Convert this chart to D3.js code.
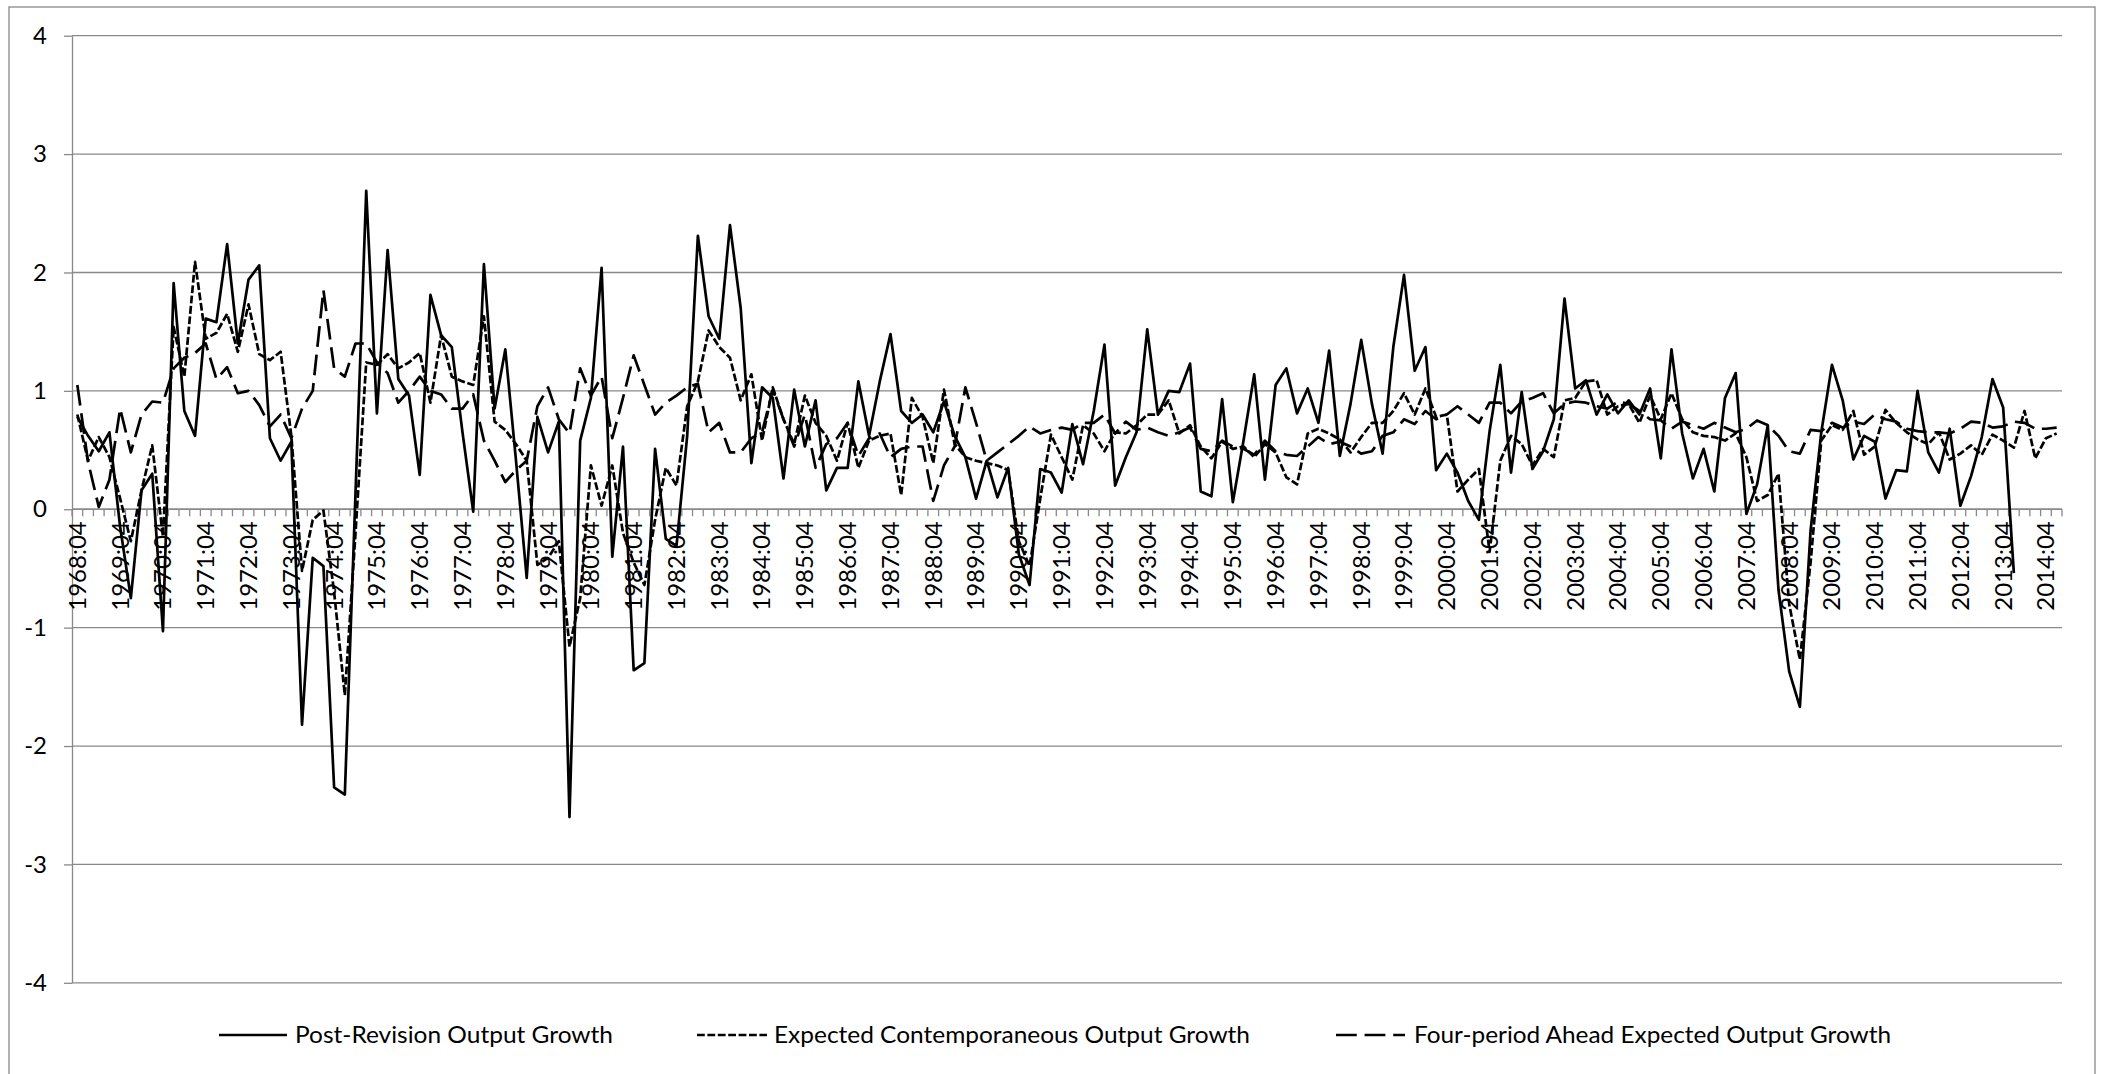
<!DOCTYPE html>
<html>
<head>
<meta charset="utf-8">
<script src="https://cdn.jsdelivr.net/npm/d3@7"></script>
<style>
  html, body { margin: 0; padding: 0; background: #fff; }
  svg { display: block; }
  text { font-family: Lato, "Open Sans", sans-serif; fill: #000; }
</style>
</head>
<body>
<svg id="chart" width="2103" height="1074"></svg>
<script>
// Quarterly categories, 1968:04 through 2015:01
const firstYear = 1968;
const lastYear = 2015;
const categories = [];
for (let yr = firstYear; yr <= lastYear; yr++) {
  for (let q = 1; q <= 4; q++) {
    if ((yr === firstYear && q < 4) || (yr === lastYear && q > 1)) continue;
    categories.push(yr + ":0" + q);
  }
}
// every fourth quarter carries a label
const tickLabels = categories.filter(c => c.endsWith(":04"));
const yTicks = [-4, -3, -2, -1, 0, 1, 2, 3, 4];

const seriesNames = [
  "Post-Revision Output Growth",
  "Expected Contemporaneous Output Growth",
  "Four-period Ahead Expected Output Growth"
];

const postRevision = [
  0.78, 0.62, 0.49, 0.65, -0.15, -0.75, 0.16, 0.30, -1.03, 1.91,
  0.83, 0.62, 1.61, 1.58, 2.24, 1.40, 1.94, 2.06, 0.60, 0.41,
  0.57, -1.82, -0.41, -0.48, -2.35, -2.41, 0.14, 2.69, 0.81, 2.19,
  1.10, 0.96, 0.29, 1.81, 1.47, 1.37, 0.65, -0.02, 2.07, 0.85,
  1.35, 0.41, -0.58, 0.78, 0.48, 0.74, -2.60, 0.58, 0.94, 2.04,
  -0.40, 0.53, -1.36, -1.30, 0.51, -0.25, -0.31, 0.62, 2.31, 1.63,
  1.44, 2.40, 1.70, 0.39, 1.03, 0.94, 0.26, 1.01, 0.53, 0.92,
  0.16, 0.35, 0.35, 1.08, 0.62, 1.08, 1.48, 0.83, 0.73, 0.80,
  0.65, 0.91, 0.62, 0.44, 0.09, 0.41, 0.10, 0.35, -0.38, -0.64,
  0.34, 0.31, 0.14, 0.72, 0.38, 0.83, 1.39, 0.20, 0.44, 0.65,
  1.52, 0.80, 1.00, 0.99, 1.23, 0.15, 0.11, 0.93, 0.06, 0.58,
  1.14, 0.25, 1.05, 1.19, 0.81, 1.02, 0.73, 1.34, 0.45, 0.89,
  1.43, 0.89, 0.47, 1.37, 1.98, 1.17, 1.37, 0.33, 0.47, 0.31,
  0.07, -0.09, 0.66, 1.22, 0.31, 0.99, 0.34, 0.49, 0.76, 1.78,
  1.02, 1.09, 0.80, 0.97, 0.81, 0.92, 0.80, 1.02, 0.43, 1.35,
  0.64, 0.26, 0.51, 0.15, 0.94, 1.15, -0.04, 0.21, 0.71, -0.68,
  -1.37, -1.67, -0.18, 0.65, 1.22, 0.92, 0.42, 0.62, 0.57, 0.09,
  0.33, 0.32, 1.00, 0.48, 0.31, 0.68, 0.03, 0.28, 0.61, 1.10,
  0.86, -0.54, null, null, null, null
];

const expectedContemporaneous = [
  0.80, 0.41, 0.61, 0.44, 0.09, -0.27, 0.16, 0.54, -0.23, 1.54,
  1.12, 2.09, 1.44, 1.49, 1.65, 1.33, 1.73, 1.31, 1.26, 1.33,
  0.62, -0.52, -0.09, -0.01, -0.70, -1.57, -0.20, 1.24, 1.22, 1.31,
  1.19, 1.24, 1.32, 0.90, 1.47, 1.12, 1.08, 1.05, 1.63, 0.74,
  0.67, 0.55, 0.41, -0.47, -0.41, -0.27, -1.16, -0.75, 0.37, 0.03,
  0.37, -0.20, -0.45, -0.64, -0.09, 0.35, 0.20, 0.87, 1.08, 1.51,
  1.37, 1.28, 0.92, 1.14, 0.58, 1.03, 0.76, 0.55, 0.96, 0.73,
  0.62, 0.41, 0.73, 0.35, 0.58, 0.62, 0.64, 0.12, 0.94, 0.78,
  0.39, 1.01, 0.55, 0.44, 0.41, 0.39, 0.37, 0.33, -0.27, -0.48,
  0.09, 0.63, 0.44, 0.25, 0.71, 0.64, 0.49, 0.65, 0.64, 0.71,
  0.80, 0.80, 0.92, 0.64, 0.71, 0.53, 0.43, 0.57, 0.51, 0.53,
  0.44, 0.55, 0.48, 0.27, 0.21, 0.64, 0.68, 0.64, 0.59, 0.48,
  0.61, 0.73, 0.73, 0.83, 0.98, 0.80, 1.02, 0.78, 0.80, 0.15,
  0.25, 0.34, -0.36, 0.41, 0.62, 0.55, 0.37, 0.51, 0.44, 0.92,
  0.94, 1.08, 1.09, 0.80, 0.87, 0.89, 0.73, 0.96, 0.76, 0.98,
  0.76, 0.65, 0.62, 0.61, 0.58, 0.64, 0.44, 0.07, 0.12, 0.30,
  -0.80, -1.27, -0.45, 0.58, 0.71, 0.67, 0.83, 0.46, 0.53, 0.84,
  0.73, 0.65, 0.59, 0.55, 0.65, 0.42, 0.47, 0.54, 0.46, 0.63,
  0.58, 0.52, 0.83, 0.43, 0.60, 0.64
];

const fourPeriodAhead = [
  1.05, 0.40, 0.02, 0.25, 0.85, 0.48, 0.80, 0.91, 0.90, 1.19,
  1.28, 1.32, 1.40, 1.10, 1.20, 0.98, 1.00, 0.88, 0.70, 0.80,
  0.60, 0.85, 1.00, 1.85, 1.19, 1.12, 1.40, 1.40, 1.24, 1.15,
  0.90, 1.00, 1.12, 1.00, 0.97, 0.85, 0.85, 0.97, 0.58, 0.41,
  0.23, 0.33, 0.41, 0.87, 1.03, 0.76, 0.64, 1.19, 0.96, 1.12,
  0.60, 0.94, 1.30, 1.05, 0.80, 0.90, 0.96, 1.03, 1.06, 0.65,
  0.73, 0.48, 0.48, 0.60, 0.65, 1.01, 0.76, 0.53, 0.80, 0.35,
  0.55, 0.60, 0.73, 0.45, 0.60, 0.64, 0.44, 0.51, 0.53, 0.53,
  0.07, 0.37, 0.53, 1.03, 0.73, 0.41, 0.48, 0.55, 0.62, 0.70,
  0.64, 0.67, 0.69, 0.67, 0.73, 0.73, 0.80, 0.64, 0.74, 0.67,
  0.69, 0.65, 0.62, 0.65, 0.69, 0.51, 0.49, 0.58, 0.53, 0.51,
  0.46, 0.58, 0.49, 0.46, 0.45, 0.53, 0.61, 0.55, 0.57, 0.53,
  0.47, 0.49, 0.62, 0.65, 0.76, 0.72, 0.83, 0.76, 0.80, 0.87,
  0.80, 0.73, 0.90, 0.90, 0.81, 0.91, 0.94, 0.98, 0.81, 0.89,
  0.91, 0.90, 0.87, 0.85, 0.91, 0.89, 0.83, 0.76, 0.75, 0.68,
  0.74, 0.71, 0.68, 0.73, 0.69, 0.65, 0.68, 0.75, 0.71, 0.62,
  0.49, 0.47, 0.67, 0.66, 0.73, 0.69, 0.74, 0.72, 0.80, 0.76,
  0.74, 0.68, 0.66, 0.65, 0.65, 0.64, 0.68, 0.74, 0.73, 0.69,
  0.70, 0.74, 0.73, 0.68, 0.68, 0.69
];

const W = 2103, H = 1074;
const plot = { left: 72, right: 2062, top: 35.7, bottom: 982.8 };
const gridColor = "#898989";
const lineWidth = 2.7;
const dashes = ["none", "7.8,2.6", "20.8,7.8"];

const svg = d3.select("#chart");
svg.append("rect").attr("width", W).attr("height", H).attr("fill", "#fff");

// chart area frame
svg.append("rect")
  .attr("x", 9).attr("y", 7)
  .attr("width", 2086).attr("height", 1090)
  .attr("fill", "none").attr("stroke", gridColor).attr("stroke-width", 1.3);

const x = d3.scaleBand().domain(categories).range([plot.left, plot.right]).padding(0);
const y = d3.scaleLinear().domain([-4, 4]).range([plot.bottom, plot.top]);
const bw = x.bandwidth();
const cx = c => x(c) + bw / 2;

// horizontal gridlines
svg.append("g").selectAll("line").data(yTicks).join("line")
  .attr("x1", plot.left).attr("x2", plot.right)
  .attr("y1", d => y(d)).attr("y2", d => y(d))
  .attr("stroke", gridColor).attr("stroke-width", 1.3);

// value axis with outward ticks; plain hyphen for negatives
const yAxis = svg.append("g")
  .attr("transform", `translate(${plot.left},0)`)
  .call(d3.axisLeft(y).tickValues(yTicks).tickSize(8).tickSizeOuter(0).tickPadding(17)
        .tickFormat(d => String(d)));
yAxis.select(".domain").attr("stroke", gridColor).attr("stroke-width", 1.3);
yAxis.selectAll(".tick line").attr("stroke", gridColor).attr("stroke-width", 1.3);
yAxis.selectAll(".tick text")
  .attr("font-size", 24)
  .style("font-family", "Lato, 'Open Sans', sans-serif")
  .attr("fill", "#000");

// category axis drawn at zero
const y0 = y(0);
const boundaries = categories.map(c => x(c)).concat([plot.right]);
svg.append("g").selectAll("line").data(boundaries).join("line")
  .attr("x1", d => d).attr("x2", d => d)
  .attr("y1", y0).attr("y2", y0 + 7)
  .attr("stroke", gridColor).attr("stroke-width", 1.3);
svg.append("line")
  .attr("x1", plot.left).attr("x2", plot.right)
  .attr("y1", y0).attr("y2", y0)
  .attr("stroke", gridColor).attr("stroke-width", 1.3);

svg.append("g").selectAll("text").data(tickLabels).join("text")
  .attr("transform", d => `translate(${cx(d)},${y0 + 12}) rotate(-90)`)
  .attr("text-anchor", "end")
  .attr("dy", "0.35em")
  .attr("font-size", 24)
  .text(d => d);

// series lines
const seriesData = [postRevision, expectedContemporaneous, fourPeriodAhead];
const line = d3.line()
  .defined(d => d.v !== null)
  .x(d => cx(d.c))
  .y(d => y(d.v));

svg.append("g").selectAll("path").data(seriesData).join("path")
  .attr("d", vals => line(vals.map((v, i) => ({ c: categories[i], v }))))
  .attr("fill", "none")
  .attr("stroke", "#000")
  .attr("stroke-width", lineWidth)
  .attr("stroke-linejoin", "round")
  .attr("stroke-dasharray", (d, i) => dashes[i]);

// legend
const legendY = 1035;
const legendItems = [
  { name: seriesNames[0], x0: 219, x1: 287, tx: 295, tw: 318 },
  { name: seriesNames[1], x0: 697, x1: 767, tx: 774, tw: 476 },
  { name: seriesNames[2], x0: 1336, x1: 1405, tx: 1414, tw: 477 }
];
const lg = svg.append("g").selectAll("g").data(legendItems).join("g");
lg.append("line")
  .attr("x1", d => d.x0).attr("x2", d => d.x1)
  .attr("y1", legendY).attr("y2", legendY)
  .attr("stroke", "#000").attr("stroke-width", lineWidth)
  .attr("stroke-dasharray", (d, i) => dashes[i]);
lg.append("text")
  .attr("x", d => d.tx).attr("y", legendY)
  .attr("dy", "0.35em")
  .attr("font-size", 24)
  .attr("textLength", d => d.tw)
  .attr("lengthAdjust", "spacingAndGlyphs")
  .text(d => d.name);
</script>
</body>
</html>
